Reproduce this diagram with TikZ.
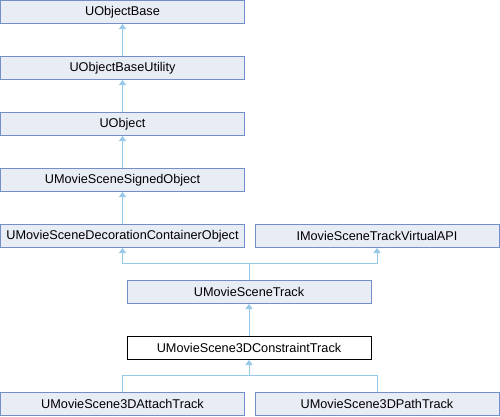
\documentclass[tikz,border=0pt]{standalone}
\usepackage{fontspec}
\setmainfont{Liberation Sans}
\usetikzlibrary{arrows.meta}

\definecolor{boxfill}{RGB}{232,236,245}
\definecolor{boxline}{RGB}{116,142,200}
\definecolor{edge}{RGB}{150,200,232}

\begin{document}
\begin{tikzpicture}[x=1pt, y=-1pt,
    box/.style={rectangle, draw=boxline, fill=boxfill, line width=1pt,
                minimum width=244pt, minimum height=23pt, inner sep=0pt,
                font=\fontsize{12.7}{14}\selectfont},
    current/.style={box, draw=black, fill=white},
    line/.style={{Triangle[length=5pt, width=7pt]}-, draw=edge,
                 line width=1pt},
  ]
  \useasboundingbox (0,0) rectangle (500,416);

  \node[box] (base)    at (122.5, 12)  {UObjectBase};
  \node[box] (utility) at (122.5, 68)  {UObjectBaseUtility};
  \node[box] (uobject) at (122.5, 124) {UObject};
  \node[box] (signed)  at (122.5, 180) {UMovieSceneSignedObject};

  \node[box] (deco)    at (122.5, 236) {UMovieSceneDecorationContainerObject};
  \node[box] (virtapi) at (377, 236)   {IMovieSceneTrackVirtualAPI};

  \node[box] (track)   at (249, 292)   {UMovieSceneTrack};
  \node[current] (constraint) at (249, 348) {UMovieScene3DConstraintTrack};

  \node[box] (attach)  at (122.5, 404) {UMovieScene3DAttachTrack};
  \node[box] (path)    at (377, 404)   {UMovieScene3DPathTrack};

  % single inheritance chain
  \draw[line] (base) -- (utility);
  \draw[line] (utility) -- (uobject);
  \draw[line] (uobject) -- (signed);
  \draw[line] (signed) -- (deco);

  % track with two parents
  \coordinate (trackjoin) at (249, 263.5);
  \draw[line] (deco) |- (trackjoin) -- (track);
  \draw[line] (virtapi) |- (trackjoin);

  \draw[line] (track) -- (constraint);

  % constraint children
  \coordinate (consjoin) at (249, 375.5);
  \draw[line] (constraint) -- (consjoin) -| (attach);
  \draw[draw=edge, line width=1pt] (consjoin) -| (path);

\end{tikzpicture}
\end{document}
